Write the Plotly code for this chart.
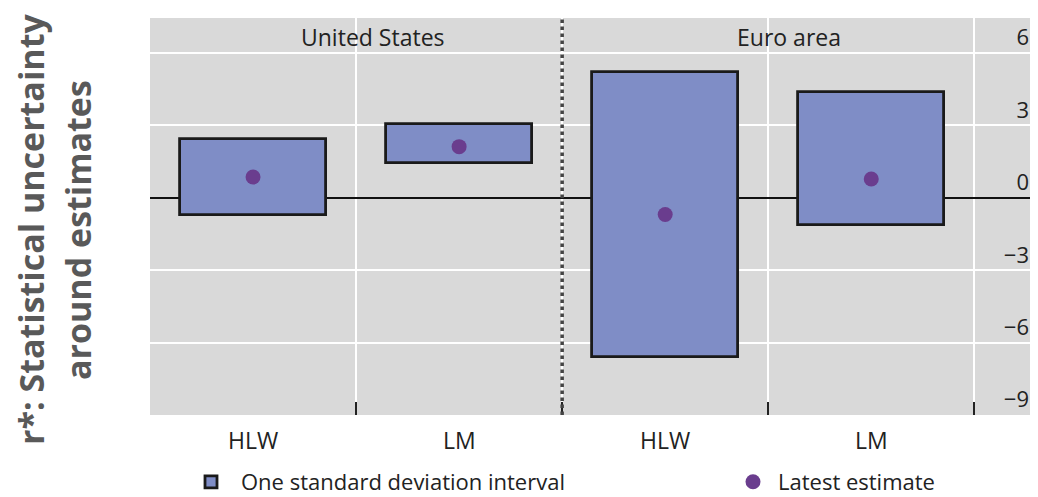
import plotly.graph_objects as go

# ---- data ----
categories = ["HLW", "LM", "HLW", "LM"]
groups = ["United States", "Euro area"]
interval_low = [-0.73, 1.43, -6.6, -1.14]
interval_high = [2.45, 3.06, 5.22, 4.37]
latest_estimate = [0.86, 2.12, -0.69, 0.78]
y_ticks = [6, 3, 0, -3, -6, -9]
y_tick_labels = ["6", "3", "0", "\u22123", "\u22126", "\u22129"]

xpos = list(range(len(categories)))
separators = [i - 0.5 for i in range(len(categories) + 1)]

BAR = "#7f8dc6"
DOT = "#6a3d8e"
TXT = "#222222"
FONT = "Open Sans"
W, H = 1030, 489
ML, MR, MT, MB = 142, 6, 10, 82
PW = W - ML - MR
PH = H - MT - MB

fig = go.Figure()
fig.add_trace(go.Bar(
    x=xpos,
    base=interval_low,
    y=[h - l for h, l in zip(interval_high, interval_low)],
    width=0.71,
    marker=dict(color=BAR, line=dict(color="#1a1a1a", width=2.8)),
    name="One standard deviation interval",
    legend="legend",
    hoverinfo="skip",
))
fig.add_trace(go.Scatter(
    x=xpos, y=latest_estimate, mode="markers",
    marker=dict(color=DOT, size=15),
    name="Latest estimate",
    legend="legend2",
))

fig.add_vline(x=separators[2], line=dict(color="#444444", width=3.5, dash="dot"))

fig.add_annotation(x=0.58, y=6.65, text=groups[0], showarrow=False,
                   font=dict(size=23, color=TXT, family=FONT))
fig.add_annotation(x=2.6, y=6.65, text=groups[1], showarrow=False,
                   font=dict(size=23, color=TXT, family=FONT))

for xi, c in zip(xpos, categories):
    fig.add_annotation(x=xi, y=-25 / PH, yref="paper", text=c, showarrow=False,
                       yanchor="middle", font=dict(size=23, color=TXT, family=FONT))

fig.add_annotation(x=(23 - ML) / PW, y=0.466, xref="paper", yref="paper",
                   text="<b>r*: Statistical uncertainty</b>", textangle=-90,
                   showarrow=False, xanchor="center", yanchor="middle",
                   font=dict(size=34, color="#595959", family=FONT))
fig.add_annotation(x=(70 - ML) / PW, y=0.466, xref="paper", yref="paper",
                   text="<b>around estimates</b>", textangle=-90,
                   showarrow=False, xanchor="center", yanchor="middle",
                   font=dict(size=34, color="#595959", family=FONT))

leg_common = dict(orientation="h", xanchor="left", yanchor="middle",
                  y=-67 / PH, font=dict(size=22, color=TXT, family=FONT),
                  bgcolor="rgba(0,0,0,0)")
fig.update_layout(
    width=W, height=H,
    margin=dict(l=ML, r=MR, t=MT, b=MB, autoexpand=False),
    paper_bgcolor="white",
    plot_bgcolor="#d9d9d9",
    font=dict(family=FONT, size=22, color=TXT),
    showlegend=True,
    legend=dict(x=(173 - ML) / PW, itemwidth=50, **leg_common),
    legend2=dict(x=(720 - ML) / PW, itemwidth=40, **leg_common),
    bargap=0,
)
fig.update_xaxes(
    range=[-0.5, 3.78], tickmode="array", tickvals=separators,
    ticktext=[""] * len(separators),
    ticks="inside", ticklen=13, tickwidth=2, tickcolor="#222222",
    showgrid=True, gridcolor="white", gridwidth=2,
    zeroline=False, showline=False, fixedrange=True,
)
fig.update_yaxes(
    range=[-9, 7.45], tickmode="array", tickvals=y_ticks, ticktext=y_tick_labels,
    side="right", ticklabelposition="inside top",
    showgrid=True, gridcolor="white", gridwidth=2,
    zeroline=True, zerolinecolor="#111111", zerolinewidth=1.8,
    showline=False, ticks="",
    tickfont=dict(size=22, color=TXT, family=FONT),
)

fig.write_html("out.html")
